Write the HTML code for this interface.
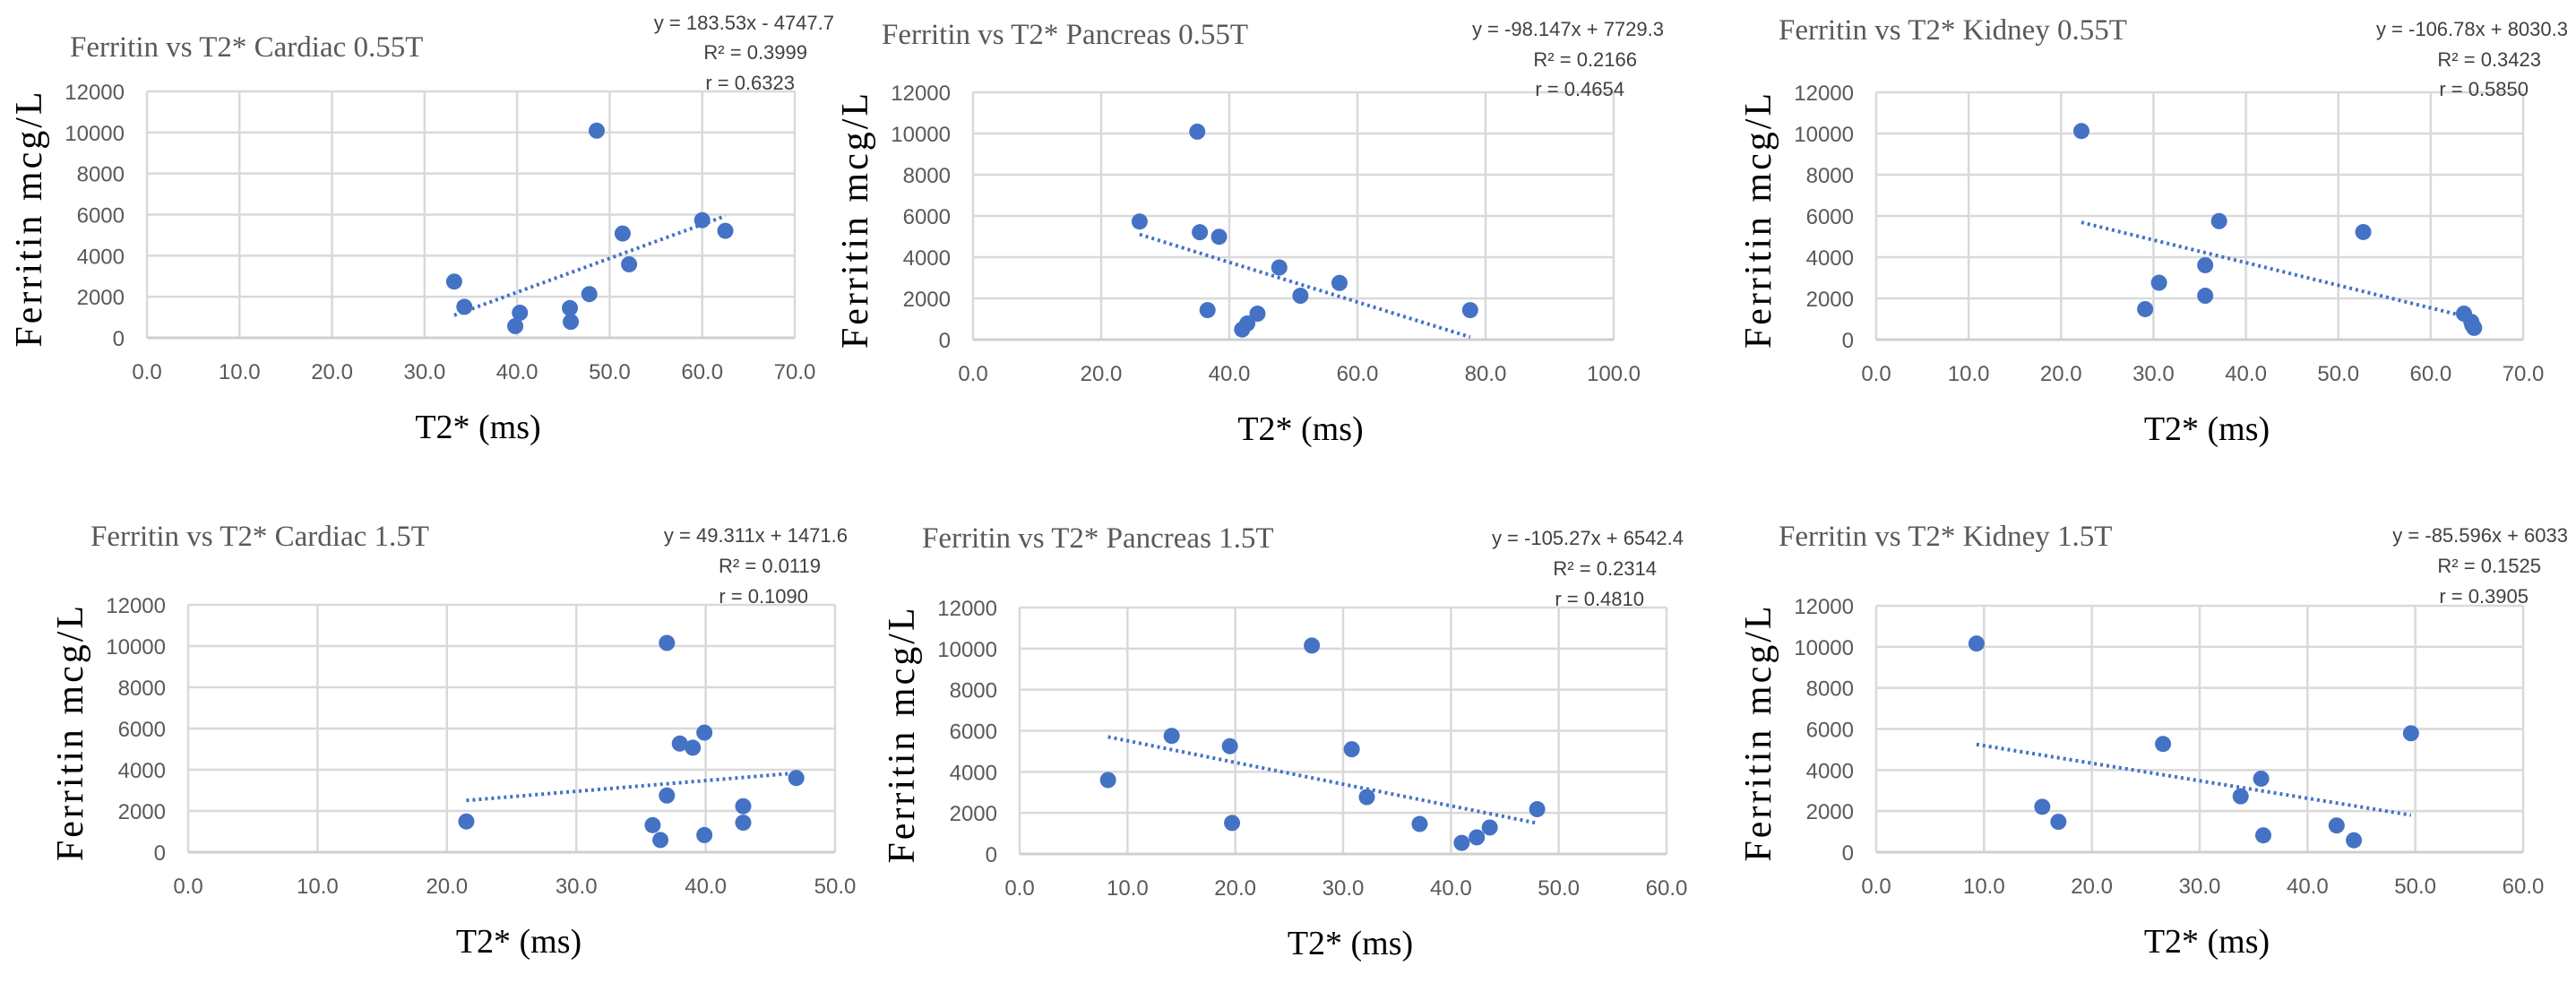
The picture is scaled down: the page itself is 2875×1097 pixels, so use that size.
<!DOCTYPE html>
<html><head><meta charset="utf-8">
<style>
html,body{margin:0;padding:0;background:#fff;}
svg{display:block;}
.title{font-family:"Liberation Serif",serif;font-size:33px;fill:#595959;}
.tick{font-family:"Liberation Sans",sans-serif;font-size:24px;fill:#595959;}
.eq{font-family:"Liberation Sans",sans-serif;font-size:22px;fill:#404040;}
.axt{font-family:"Liberation Serif",serif;font-size:38px;fill:#000;}
.yaxt{font-family:"Liberation Serif",serif;font-size:42px;fill:#000;}
</style></head>
<body>
<svg id="chart" width="2875" height="1097" viewBox="0 0 2875 1097" xmlns="http://www.w3.org/2000/svg"></svg>
<script>
const chartTitles = ["Ferritin vs T2* Cardiac 0.55T","Ferritin vs T2* Pancreas 0.55T","Ferritin vs T2* Kidney 0.55T","Ferritin vs T2* Cardiac 1.5T","Ferritin vs T2* Pancreas 1.5T","Ferritin vs T2* Kidney 1.5T"];
const eqLines = [["y = 183.53x - 4747.7","R² = 0.3999","r = 0.6323"],["y = -98.147x + 7729.3","R² = 0.2166","r = 0.4654"],["y = -106.78x + 8030.3","R² = 0.3423","r = 0.5850"],["y = 49.311x + 1471.6","R² = 0.0119","r = 0.1090"],["y = -105.27x + 6542.4","R² = 0.2314","r = 0.4810"],["y = -85.596x + 6033","R² = 0.1525","r = 0.3905"]];
const xMaxes = [70,100,70,50,60,60];
const xStepValues = [10,20,10,10,10,10];
const yTicks = [0,2000,4000,6000,8000,10000,12000];
const cardiac055X = [33.2,34.3,39.8,40.3,45.7,45.8,47.8,48.6,51.4,52.1,60.0,62.5];
const cardiac055Y = [2740,1510,570,1220,1450,780,2130,10090,5080,3580,5730,5210];
const pancreas055X = [26.0,35.0,35.4,38.4,36.6,42.0,42.8,44.4,47.8,51.1,57.2,77.6];
const pancreas055Y = [5730,10090,5210,4990,1430,490,780,1260,3500,2130,2750,1430];
const kidney055X = [22.2,37.1,52.7,35.6,30.6,35.6,29.1,63.6,64.4,64.5,64.7];
const kidney055Y = [10120,5750,5220,3610,2760,2130,1480,1260,860,710,570];
const cardiac15X = [21.5,35.9,36.5,37.0,37.0,38.0,39.0,39.9,39.9,42.9,42.9,47.0];
const cardiac15Y = [1490,1310,590,10150,2750,5270,5070,5800,830,2230,1430,3600];
const pancreas15X = [8.2,14.1,19.5,19.7,27.1,30.8,32.2,37.1,41.0,42.4,43.6,48.0];
const pancreas15Y = [3600,5750,5250,1510,10150,5100,2770,1460,540,810,1290,2180];
const kidney15X = [9.3,15.4,16.9,26.6,33.8,35.7,35.9,42.7,44.3,49.6];
const kidney15Y = [10160,2210,1480,5270,2720,3580,820,1300,580,5790];
const seriesX = [cardiac055X,pancreas055X,kidney055X,cardiac15X,pancreas15X,kidney15X];
const seriesY = [cardiac055Y,pancreas055Y,kidney055Y,cardiac15Y,pancreas15Y,kidney15Y];

const layouts = [
 {l:164,r:887,t:102,b:377,tx:78,ty:63,eqR:931,eqY:[33,66,100]},
 {l:1086,r:1801,t:103,b:379,tx:984,ty:49,eqR:1857,eqY:[40,74,107]},
 {l:2094,r:2816,t:103,b:379,tx:1985,ty:44,eqR:2866,eqY:[40,74,107]},
 {l:210,r:932,t:675,b:951,tx:101,ty:609,eqR:946,eqY:[605,639,673]},
 {l:1138,r:1860,t:678,b:953,tx:1029,ty:611,eqR:1879,eqY:[608,642,676]},
 {l:2094,r:2816,t:676,b:951,tx:1985,ty:609,eqR:2866,eqY:[605,639,673]}
];
const NS="http://www.w3.org/2000/svg";
const svg=document.getElementById('chart');
function mk(tag,attrs,parent){const e=document.createElementNS(NS,tag);for(const k in attrs)e.setAttribute(k,attrs[k]);(parent||svg).appendChild(e);return e;}

layouts.forEach((L,i)=>{
  const g=mk('g',{});
  
  
  const xMax=xMaxes[i];
  const sx=v=>L.l+(v/xMax)*(L.r-L.l);
  const sy=v=>L.b-(v/12000)*(L.b-L.t);
  for(let v=0;v<=xMax+1e-9;v+=xStepValues[i]){
    const ln=mk('line',{x1:sx(v),x2:sx(v),y1:L.t,y2:L.b,stroke:'#d9d9d9','stroke-width':2.5},g);
    
    
    const t=mk('text',{x:sx(v),y:L.b+46,'text-anchor':'middle',class:'tick'},g);
    t.textContent=v.toFixed(1);
    
    
  }
  yTicks.forEach(v=>{
    const ln=mk('line',{x1:L.l,x2:L.r,y1:sy(v),y2:sy(v),stroke:v===0?'#cfcfcf':'#d9d9d9','stroke-width':v===0?3:2.5},g);
    
    
    const t=mk('text',{x:L.l-25,y:sy(v)+9,'text-anchor':'end',class:'tick'},g);
    t.textContent=String(v);
    
    
  });
  const ti=mk('text',{x:L.tx,y:L.ty,class:'title'},g);
  ti.textContent=chartTitles[i];
  
  
  const yt=mk('text',{x:0,y:0,class:'yaxt','text-anchor':'middle','letter-spacing':'3',transform:`translate(${L.l-118},${(L.t+L.b)/2+4}) rotate(-90)`},g);
  yt.textContent='Ferritin mcg/L';
  
  
  const xt=mk('text',{x:(L.l+L.r)/2+8,y:L.b+112,class:'axt','text-anchor':'middle'},g);
  xt.textContent='T2* (ms)';
  
  
  const X=seriesX[i],Y=seriesY[i],n=X.length;
  let mx=0,my=0;for(let k=0;k<n;k++){mx+=X[k];my+=Y[k];}mx/=n;my/=n;
  let sxy=0,sxx=0;for(let k=0;k<n;k++){sxy+=(X[k]-mx)*(Y[k]-my);sxx+=(X[k]-mx)**2;}
  const m=sxy/sxx,c=my-m*mx;
  const x0=Math.min(...X),x1=Math.max(...X);
  const tl=mk('line',{x1:sx(x0),y1:sy(m*x0+c),x2:sx(x1),y2:sy(m*x1+c),stroke:'#4472c4','stroke-width':4,'stroke-dasharray':'3 4'},g);
  
  
  for(let k=0;k<n;k++){
    const p=mk('ellipse',{cx:sx(X[k]),cy:sy(Y[k]),rx:9,ry:9,fill:'#4472c4'},g);
    
    
  }
  eqLines[i].forEach((s,j)=>{
    const t=mk('text',{x:L.eqR-(j===0?0:(j===1?30:44)),y:L.eqY[j],'text-anchor':'end',class:'eq'},g);
    t.textContent=s;
    
    
  });
});
</script>
</body></html>
